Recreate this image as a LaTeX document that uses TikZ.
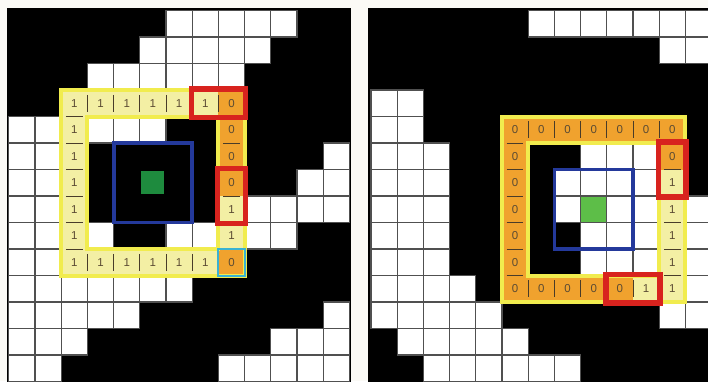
\documentclass[tikz,border=0pt]{standalone}
\usepackage{fontspec}
\setmainfont{Liberation Sans}

\definecolor{paper}{HTML}{FBFAF6}
\definecolor{gridgray}{HTML}{505050}
\definecolor{ringyellow}{HTML}{F1EC4E}
\definecolor{paleyellow}{HTML}{F3EFA4}
\definecolor{ringorange}{HTML}{F0A22E}
\definecolor{digitgray}{HTML}{5B4B33}
\definecolor{boxred}{HTML}{D8231E}
\definecolor{boxblue}{HTML}{24399B}
\definecolor{boxcyan}{HTML}{3AB2D2}
\definecolor{darkgreen}{HTML}{1E8B3E}
\definecolor{lightgreen}{HTML}{5DBE48}

\tikzset{
  whitecell/.style={fill=white, draw=gridgray, line width=1.1pt},
  ringcell/.style={minimum width=26.2pt, minimum height=26.5pt, inner sep=0pt, text=digitgray},
  ring0/.style={fill=ringorange},
  ring1/.style={fill=paleyellow},
  sepline/.style={draw=digitgray!80!black, line width=0.9pt},
  ringline/.style={draw=ringyellow, line width=4pt},
  pairbox/.style={draw=boxred, line width=5.5pt},
  centrebox/.style={draw=boxblue, line width=3.8pt},
  testbox/.style={draw=boxcyan, line width=2pt}
}

\begin{document}
\begin{tikzpicture}[x=1pt,y=-1pt,font=\fontsize{11.5}{13}\selectfont]
  \useasboundingbox (0,0) rectangle (708,381);
  \clip (0,0) rectangle (708,381);
  \fill[paper] (0,0) rectangle (708,381);

  % left panel
  \begin{scope}[shift={(8.8,10.5)},x=26.2pt,y=-26.5pt]
    \fill[black] (-0.08,-0.1) rectangle (13.05,14.2);
    \foreach \r/\cols in {0/{6,7,8,9,10},1/{5,6,7,8,9},2/{3,4,5,6,7,8},
        4/{0,1,3,4,5},5/{0,1,12},6/{0,1,11,12},7/{0,1,9,10,11,12},
        8/{0,1,3,6,7,9,10},9/{0,1},10/{0,1,2,3,4,5,6},11/{0,1,2,3,4,12},
        12/{0,1,2,10,11,12},13/{0,1,8,9,10,11,12}} {
        \foreach \c in \cols
          \draw[whitecell] (\c,\r) rectangle ++(1,1);
      }
    % ring of tested pixels
    \foreach \c/\v in {2/1,3/1,4/1,5/1,6/1,7/1,8/0} {
        \node[ringcell,ring\v] (Lt\c) at (\c+0.5,3.5) {\v};
        \node[ringcell,ring\v] (Lb\c) at (\c+0.5,9.5) {\v};
      }
    \foreach \r/\v in {4/0,5/0,6/0,7/1,8/1} {
        \node[ringcell,ring1] (Ll\r) at (2.5,\r+0.5) {1};
        \node[ringcell,ring\v] (Lr\r) at (8.5,\r+0.5) {\v};
      }
    \foreach \c in {3,...,8} {
        \draw[sepline] (\c,3.18) -- (\c,3.82);
        \draw[sepline] (\c,9.18) -- (\c,9.82);
      }
    \foreach \r in {4,...,9} {
        \draw[sepline] (2.18,\r) -- (2.82,\r);
        \draw[sepline] (8.18,\r) -- (8.82,\r);
      }
    \draw[ringline] (2,3) rectangle (9,10);
    \draw[ringline] (3,4) rectangle (8,9);
    % centre pixel and window
    \fill[darkgreen] (5.06,6.04) rectangle (5.94,6.94);
    \draw[centrebox] (4,5) rectangle (7,8);
    \draw[pairbox] (6.97,2.97) rectangle (9.03,4.03);
    \draw[pairbox] (7.97,5.97) rectangle (9.03,8.03);
    \draw[testbox] (8,9) rectangle (9,10);
  \end{scope}

  % right panel
  \begin{scope}[shift={(371,10.5)},x=26.2pt,y=-26.5pt]
    \fill[black] (-0.1,-0.1) rectangle (13.5,14.2);
    \foreach \r/\cols in {0/{6,7,8,9,10,11,12},1/{11,12},3/{0,1},4/{0,1},
        5/{0,1,2,8,9,10},6/{0,1,2,7,8,9,10},7/{0,1,2,7,8,9,10,12},
        8/{0,1,2,8,9,10,12},9/{0,1,2,8,9,10,12},10/{0,1,2,3,12},
        11/{0,1,2,3,4,11,12},12/{1,2,3,4,5},13/{2,3,4,5,6,7}} {
        \foreach \c in \cols
          \draw[whitecell] (\c,\r) rectangle ++(1,1);
      }
    % ring of tested pixels
    \foreach \c/\v in {5/0,6/0,7/0,8/0,9/0,10/1,11/1} {
        \node[ringcell,ring0] (Rt\c) at (\c+0.5,4.5) {0};
        \node[ringcell,ring\v] (Rb\c) at (\c+0.5,10.5) {\v};
      }
    \foreach \r/\v in {5/0,6/1,7/1,8/1,9/1} {
        \node[ringcell,ring0] (Rl\r) at (5.5,\r+0.5) {0};
        \node[ringcell,ring\v] (Rr\r) at (11.5,\r+0.5) {\v};
      }
    \foreach \c in {6,...,11} {
        \draw[sepline] (\c,4.18) -- (\c,4.82);
        \draw[sepline] (\c,10.18) -- (\c,10.82);
      }
    \foreach \r in {5,...,10} {
        \draw[sepline] (5.18,\r) -- (5.82,\r);
        \draw[sepline] (11.18,\r) -- (11.82,\r);
      }
    \draw[ringline] (5,4) rectangle (12,11);
    \draw[ringline] (6,5) rectangle (11,10);
    % centre pixel and window
    \fill[lightgreen] (8.03,7.03) rectangle (8.97,7.97);
    \draw[centrebox] (7,6) rectangle (10,9);
    \draw[pairbox] (10.97,4.97) rectangle (12.03,7.03);
    \draw[pairbox] (8.97,9.97) rectangle (11.03,11.03);
  \end{scope}
\end{tikzpicture}
\end{document}
